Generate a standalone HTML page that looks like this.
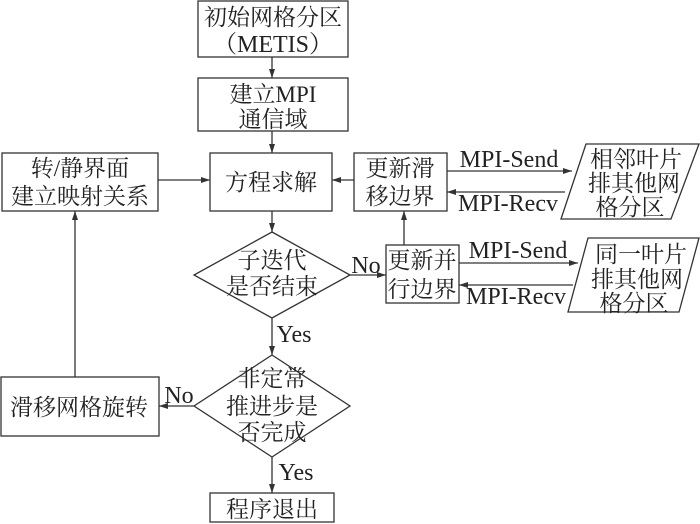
<!DOCTYPE html>
<html><head><meta charset="utf-8"><style>html,body{margin:0;padding:0;background:#fff}svg{display:block}</style></head>
<body>
<svg width="700" height="524" viewBox="0 0 700 524" xmlns="http://www.w3.org/2000/svg">
<defs><marker id="a" markerWidth="10" markerHeight="8" refX="9" refY="4" orient="auto" markerUnits="userSpaceOnUse"><path d="M0,1 L9,4 L0,7 Z" fill="#333"/></marker></defs>
<g fill="none" stroke="#333" stroke-width="1.3">
<rect x="198" y="1" width="150" height="56"/>
<rect x="198" y="78" width="150" height="53"/>
<rect x="210" y="153" width="122" height="58"/>
<rect x="2" y="153" width="156" height="58"/>
<rect x="354" y="153" width="93" height="58"/>
<polygon points="586,144 699,144 671,219 561,219"/>
<rect x="386" y="245" width="73" height="58"/>
<polygon points="588,238 699,238 679,312 568,312"/>
<polygon points="272,232 350,275 272,318 194,275"/>
<polygon points="272,355 350,406 272,457 194,406"/>
<rect x="1" y="377" width="158" height="59"/>
<rect x="210" y="493" width="124" height="29"/>
</g>
<g stroke="#333" stroke-width="1.3" marker-end="url(#a)">
<line x1="272" y1="57" x2="272" y2="78"/>
<line x1="272" y1="131" x2="272" y2="153"/>
<line x1="158" y1="180" x2="210" y2="180"/>
<line x1="354" y1="180" x2="332" y2="180"/>
<line x1="447" y1="171" x2="572" y2="171"/>
<line x1="565" y1="192" x2="447" y2="192"/>
<line x1="272" y1="211" x2="272" y2="232"/>
<line x1="350" y1="275" x2="386" y2="275"/>
<line x1="404" y1="245" x2="404" y2="211"/>
<line x1="459" y1="263" x2="578" y2="263"/>
<line x1="573" y1="285" x2="459" y2="285"/>
<line x1="272" y1="318" x2="272" y2="355"/>
<line x1="194" y1="406" x2="159" y2="406"/>
<line x1="272" y1="457" x2="272" y2="493"/>
<line x1="75" y1="377" x2="75" y2="211"/>
</g>
<g font-family="'Liberation Serif','Noto Serif CJK SC',serif" font-size="23" fill="#222" text-anchor="middle">
<text x="273" y="25">初始网格分区</text>
<text x="273" y="52" font-size="24">（METIS）</text>
<text x="273" y="102">建立MPI</text>
<text x="273" y="127">通信域</text>
<text x="271" y="190">方程求解</text>
<text x="80" y="176">转/静界面</text>
<text x="80" y="204">建立映射关系</text>
<text x="400" y="176">更新滑</text>
<text x="400" y="204">移边界</text>
<text x="509" y="167" font-size="24">MPI-Send</text>
<text x="508" y="211" font-size="24">MPI-Recv</text>
<text x="636" y="167">相邻叶片</text>
<text x="634" y="191">排其他网</text>
<text x="630" y="215">格分区</text>
<text x="272" y="268">子迭代</text>
<text x="272" y="294">是否结束</text>
<text x="366" y="273" font-size="24">No</text>
<text x="422" y="268">更新并</text>
<text x="422" y="297">行边界</text>
<text x="518" y="258" font-size="24">MPI-Send</text>
<text x="516" y="304" font-size="24">MPI-Recv</text>
<text x="641" y="262">同一叶片</text>
<text x="637" y="287">排其他网</text>
<text x="634" y="311">格分区</text>
<text x="294" y="342" font-size="24">Yes</text>
<text x="272" y="386">非定常</text>
<text x="272" y="414">推进步是</text>
<text x="272" y="440">否完成</text>
<text x="179" y="403" font-size="24">No</text>
<text x="79" y="415">滑移网格旋转</text>
<text x="296" y="480" font-size="24">Yes</text>
<text x="272" y="517">程序退出</text>
</g>
</svg>
</body></html>
